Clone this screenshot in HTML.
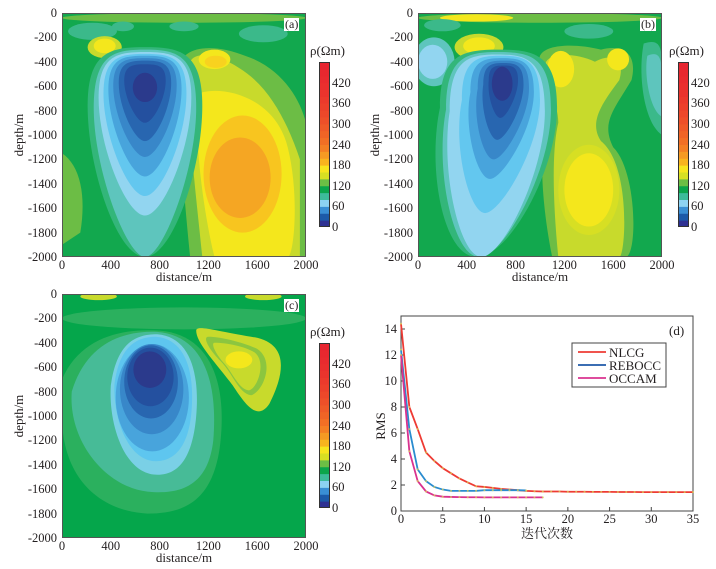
<!DOCTYPE html>
<html><head><meta charset="utf-8">
<style>
body{margin:0;background:#fff;}
#root{position:relative;width:716px;height:569px;overflow:hidden;font-family:"Liberation Serif","Noto Serif CJK SC",serif;color:#231f20;}
.t{position:absolute;font-size:12.5px;line-height:13px;white-space:nowrap;}
.yl{text-align:right;width:50px;}
.xl{text-align:center;width:40px;}
.rot{position:absolute;transform:rotate(-90deg);transform-origin:center;font-size:13px;white-space:nowrap;}
svg{position:absolute;}
</style></head>
<body><div id="root"></div>
<script>
// ---- data for RMS chart (panel d) ----
const iterNLCG=[0,1,2,3,4,5,6,7,8,9,10,11,12,13,14,15,16,17,18,19,20,21,22,23,24,25,26,27,28,29,30,31,32,33,34,35];
const rmsNLCG=[14.4,8.0,6.3,4.5,3.85,3.3,2.9,2.5,2.2,1.9,1.85,1.78,1.7,1.65,1.6,1.55,1.52,1.5,1.5,1.5,1.48,1.48,1.48,1.47,1.47,1.47,1.46,1.46,1.46,1.45,1.45,1.45,1.45,1.45,1.45,1.45];
const iterREBOCC=[0,1,2,3,4,5,6,7,8,9,10,11,12,13,14,15];
const rmsREBOCC=[12.4,6.3,3.2,2.3,1.85,1.65,1.55,1.55,1.55,1.55,1.6,1.6,1.6,1.6,1.6,1.58];
const iterOCCAM=[0,1,2,3,4,5,6,7,8,9,10,11,12,13,14,15,16,17];
const rmsOCCAM=[12.0,4.6,2.3,1.5,1.2,1.1,1.08,1.07,1.06,1.06,1.05,1.05,1.05,1.05,1.05,1.05,1.05,1.05];
const xTicksD=[0,5,10,15,20,25,30,35];
const yTicksD=[0,2,4,6,8,10,12,14];
const depthTicks=[0,-200,-400,-600,-800,-1000,-1200,-1400,-1600,-1800,-2000];
const distTicks=[0,400,800,1200,1600,2000];
const cbTicks=[0,60,120,180,240,300,360,420];
const cbColors=['#2e3192','#1c5aa8','#3a8fd4','#8dd3f2','#3dbb9a','#0ca54b','#6dbe45','#d7df23','#f7e51e','#f8b41e','#f59a23','#f47f24','#f26f25','#f06426','#ef5a28','#ee5029','#ed482a','#ec402b','#eb3a2c','#ea342d','#ea2f2e','#e92b2f','#e8282f','#e72530'];

const NS='http://www.w3.org/2000/svg';
const root=document.getElementById('root');
function el(tag,attrs,parent){const e=document.createElementNS(NS,tag);for(const k in attrs)e.setAttribute(k,attrs[k]);parent.appendChild(e);return e;}
function div(cls,text,l,t,parent){const d=document.createElement('div');d.className=cls;d.textContent=text;d.style.left=l+'px';d.style.top=t+'px';(parent||root).appendChild(d);return d;}
function tear(g,cx,top,bot,hw,fill,dx,bw){dx=dx||0;bw=bw||0.25;const h=bot-top;const y1=top+0.28*h;const bx=cx+dx;
 const d=`M${cx-hw},${y1} C${cx-hw},${top+0.02*h} ${cx-0.6*hw},${top} ${cx},${top} C${cx+0.6*hw},${top} ${cx+hw},${top+0.02*h} ${cx+hw},${y1} C${cx+hw},${y1+0.3*h} ${bx+bw*hw*1.6},${bot} ${bx},${bot} C${bx-bw*hw*1.6},${bot} ${cx-hw+dx*0.6},${y1+0.3*h} ${cx-hw},${y1} Z`;
 const p=el('path',{d:d,fill:fill},g);
 
 
 return p;}
function ell(g,cx,cy,rx,ry,fill){const e=el('ellipse',{cx:cx,cy:cy,rx:rx,ry:ry,fill:fill},g);
 
 return e;}
function pth(g,d,fill){const e=el('path',{d:d,fill:fill},g);
 
 return e;}

function panel(px,py,label,name,draw){
 const w=244,h=244;
 const s=el('svg',{width:w,height:h,viewBox:'0 0 2000 2000',preserveAspectRatio:'none'},root);
 
 
 s.style.left=px+'px';s.style.top=py+'px';
 el('rect',{x:0,y:0,width:2000,height:2000,fill:'#12a84e'},s);
 draw(s);
 el('rect',{x:4,y:4,width:1992,height:1992,fill:'none',stroke:'#555','stroke-width':8},s);
 const lb=div('t','('+label+')',px+w-22,py+5);lb.style.background='#fff';lb.style.padding='0 1px';lb.style.fontSize='12px';
 
 
 depthTicks.forEach((v,i)=>{const d=div('t yl',String(v),px-55,py+i*h/10-6);
  
  });
 distTicks.forEach((v,i)=>{const d=div('t xl',String(v),px+(v/2000)*w-20,py+h+2);
  
  });
 const yt=document.createElement('div');yt.className='rot';yt.textContent='depth/m';yt.style.left=(px-78)+'px';yt.style.top=(py+h/2-8)+'px';yt.style.width='70px';yt.style.textAlign='center';root.appendChild(yt);
 
 
 const xt=div('t xl','distance/m',px+w/2-40,py+h+13);xt.style.width='80px';xt.style.fontSize='13px';
 
 
}
function colorbar(x,y,name){
 const H=165,W=11;
 const s=el('svg',{width:W,height:H},root);s.style.left=x+'px';s.style.top=y+'px';
 
 
 const bh=H/cbColors.length;
 cbColors.forEach((c,i)=>{const r=el('rect',{x:0,y:H-(i+1)*bh,width:W,height:bh+0.5,fill:c},s);
  
  });
 el('rect',{x:0.5,y:0.5,width:W-1,height:H-1,fill:'none',stroke:'#333'},s);
 cbTicks.forEach(v=>{const ty=y+H-v/480*H;const d=div('t',String(v),x+W+2,ty-6);
  
  });
 const t=div('t','ρ(Ωm)',x-9,y-18);t.style.fontSize='13px';
 
 
}

// Panel (a)
panel(62,13,'a','panel-a',g=>{
 pth(g,'M0,1150 C150,1250 200,1500 150,1800 L0,1900Z','#6cbd45');
 ell(g,1000,40,1000,40,'#6cbd45');
 ell(g,250,150,200,70,'#3bb98a');ell(g,500,110,90,40,'#3bb98a');ell(g,1650,170,200,70,'#3bb98a');ell(g,1000,110,120,40,'#3bb98a');
 pth(g,'M950,500 C950,250 1250,250 1500,350 C1800,450 1950,700 2000,900 L2000,2000 L1050,2000 C1000,1500 950,900 950,500Z','#6cbd45');
 pth(g,'M1050,400 C1100,300 1300,350 1450,450 C1700,600 1850,900 1950,1200 L1950,2000 L1150,2000 C1100,1500 1000,700 1050,400Z','#c8da2c');
 pth(g,'M1150,650 C1350,600 1750,700 1850,1100 C1950,1500 1900,2000 1850,2000 L1250,2000 C1150,1600 1050,800 1150,650Z','#f4e71c');
 ell(g,1250,380,130,80,'#f4e71c');ell(g,1260,400,90,50,'#f8d21f');
 ell(g,1480,1320,320,480,'#f8c51f');ell(g,1460,1350,250,330,'#f5a623');
 ell(g,350,280,140,90,'#c8da2c');ell(g,350,270,90,60,'#f4e71c');
 tear(g,680,280,2000,470,'#33b67a',0,0.3);
 tear(g,680,300,2000,420,'#5ec5bd',0,0.22);
 tear(g,680,320,1660,380,'#92d5f0');
 tear(g,680,335,1500,340,'#63c7ef');
 tear(g,680,350,1340,300,'#48a4dc');
 tear(g,680,370,1180,260,'#3887c9');
 tear(g,680,390,1050,215,'#2866b0');
 tear(g,680,420,900,170,'#24509f');
 ell(g,680,610,100,120,'#2b3a8c');
});
colorbar(319,62,'panel-a');

// Panel (b)
panel(418,13,'b','panel-b',g=>{
 ell(g,1000,40,1000,40,'#6cbd45');
 ell(g,480,40,300,30,'#f4e71c');
 ell(g,200,100,150,50,'#3bb98a');ell(g,1400,150,200,60,'#3bb98a');
 pth(g,'M1850,250 C2000,200 2000,300 2000,500 L2000,1000 C1850,900 1800,500 1850,250Z','#3bb98a');
 pth(g,'M1880,350 C2000,300 2000,400 2000,600 L2000,850 C1900,800 1850,500 1880,350Z','#5ec5bd');
 ell(g,130,400,170,200,'#5ec5bd');ell(g,120,400,120,140,'#92d5f0');
 ell(g,500,280,200,110,'#c8da2c');ell(g,500,270,130,70,'#f4e71c');
 pth(g,'M1000,350 C1050,250 1300,250 1500,300 C1700,250 1800,350 1750,550 C1600,800 1500,900 1600,1100 C1800,1300 1800,2000 1700,2000 L1100,2000 C1000,1500 1000,1100 1050,900 C1050,700 950,500 1000,350Z','#6cbd45');
 pth(g,'M1050,400 C1100,320 1300,330 1450,400 C1600,320 1700,380 1650,550 C1500,750 1400,900 1500,1050 C1750,1250 1700,2000 1650,2000 L1150,2000 C1100,1500 1100,1100 1150,900 C1150,700 1000,550 1050,400Z','#c8da2c');
 ell(g,1170,460,110,150,'#f4e71c');ell(g,1640,380,90,90,'#f4e71c');
 ell(g,1400,1450,250,370,'#d7df23');ell(g,1400,1450,200,300,'#f4e71c');
 tear(g,660,300,2000,480,'#33b67a',-180,0.35);
 tear(g,660,320,2000,430,'#5ec5bd',-160,0.3);
 tear(g,650,340,2000,390,'#92d5f0',-130,0.28);
 tear(g,680,350,1640,320,'#63c7ef',-130);
 tear(g,690,370,1360,260,'#48a4dc',-100);
 tear(g,700,390,1200,210,'#3887c9',-80);
 tear(g,700,410,1040,165,'#2866b0',-50);
 tear(g,700,430,860,120,'#24509f',-25);
 ell(g,690,580,85,140,'#2b3a8c');
});
colorbar(678,62,'panel-b');

// Panel (c)
panel(62,294,'c','panel-c',g=>{
 el('rect',{x:0,y:0,width:2000,height:2000,fill:'#05a64b'},g);
 ell(g,1000,200,1000,90,'#2bb05e');
 ell(g,300,20,150,30,'#c8da2c');ell(g,1650,20,150,30,'#c8da2c');
 pth(g,'M1100,300 C1100,250 1250,300 1550,350 C1900,400 1800,700 1700,900 C1600,1050 1500,900 1400,750 C1250,550 1100,400 1100,300Z','#c8da2c');
 pth(g,'M1200,350 C1300,350 1500,400 1600,450 C1750,550 1650,800 1550,830 C1450,820 1400,650 1300,550 C1200,450 1150,350 1200,350Z','#8cc63f');
 pth(g,'M1250,400 C1350,400 1500,430 1580,480 C1680,560 1600,780 1530,790 C1450,780 1400,650 1330,570 C1250,480 1220,400 1250,400Z','#c8da2c');
 ell(g,1450,540,110,70,'#f4e71c');
 pth(g,'M0,700 C150,350 500,280 800,300 C1200,330 1350,700 1300,1200 C1250,1700 1000,1800 700,1800 C300,1780 0,1500 0,1000Z','#2bb05e');
 pth(g,'M80,800 C200,400 500,300 780,310 C1150,340 1280,700 1240,1200 C1200,1550 1000,1650 700,1620 C350,1580 50,1200 80,800Z','#47bb97');
 pth(g,'M400,750 C450,400 600,330 780,330 C1050,350 1130,650 1100,1000 C1070,1350 950,1500 750,1480 C500,1450 380,1050 400,750Z','#7ad0e6');
 pth(g,'M430,740 C470,420 620,350 770,350 C1020,370 1090,650 1060,980 C1030,1280 900,1380 750,1370 C540,1350 420,1030 430,740Z','#5ec6ef');
 ell(g,740,850,300,440,'#48a4dc');
 ell(g,735,780,260,370,'#3887c9');
 ell(g,730,720,220,300,'#2866b0');
 ell(g,725,680,190,240,'#24509f');
 ell(g,720,620,135,150,'#2b3a8c');
});
colorbar(319,343,'panel-c');

// Panel (d) RMS chart
(function(){
 const x0=401,x1=693,yb=511,yt=316,ppu=13;
 const X=v=>x0+(v/35)*(x1-x0), Y=v=>yb-v*ppu;
 const s=el('svg',{width:716,height:569},root);s.style.left='0';s.style.top='0';
 
 
 el('rect',{x:x0,y:yt,width:x1-x0,height:yb-yt,fill:'none',stroke:'#444','stroke-width':1},s);
 xTicksD.forEach(v=>{el('line',{x1:X(v),x2:X(v),y1:yb,y2:yb-4,stroke:'#444'},s);
  const d=div('t xl',String(v),X(v)-20,yb+2);
  
  });
 yTicksD.forEach(v=>{el('line',{x1:x0,x2:x0+4,y1:Y(v),y2:Y(v),stroke:'#444'},s);
  const d=div('t yl',String(v),x0-54,Y(v)-6);
  
  });
 function series(xs,ys,color,name){
  const pts=xs.map((v,i)=>X(v)+','+Y(ys[i])).join(' ');
  const l=el('polyline',{points:pts,fill:'none',stroke:color,'stroke-width':1.8},s);
  
  
  xs.forEach((v,i)=>{const c=el('circle',{cx:X(v),cy:Y(ys[i]),r:1,fill:'#d8cc55','fill-opacity':0.8},s);
   
   });
 }
 series(iterNLCG,rmsNLCG,'#ee3b34','nlcg');
 series(iterREBOCC,rmsREBOCC,'#2a8ccf','rebocc');
 series(iterOCCAM,rmsOCCAM,'#d9328f','occam');
 const lg=el('g',{},s);
 
 
 el('rect',{x:572,y:343,width:94,height:44,fill:'#fff',stroke:'#444'},lg);
 [['NLCG','#ee3b34'],['REBOCC','#1f5aa8'],['OCCAM','#d9328f']].forEach((e,i)=>{
  const ln=el('line',{x1:578,x2:606,y1:352+i*13,y2:352+i*13,stroke:e[1],'stroke-width':1.8},lg);
  
  
  const d=div('t',e[0],609,346+i*13);d.style.fontSize='13px';
  
  });
 const dl=div('t','(d)',669,324);dl.style.fontSize='13px';
 
 
 const yt2=document.createElement('div');yt2.className='rot';yt2.textContent='RMS';yt2.style.left='366px';yt2.style.top='418px';yt2.style.width='30px';yt2.style.textAlign='center';root.appendChild(yt2);
 
 
 const xt=div('t xl','迭代次数',517,527);xt.style.width='60px';xt.style.fontSize='13px';
 
 
})();
</script>
</body></html>
